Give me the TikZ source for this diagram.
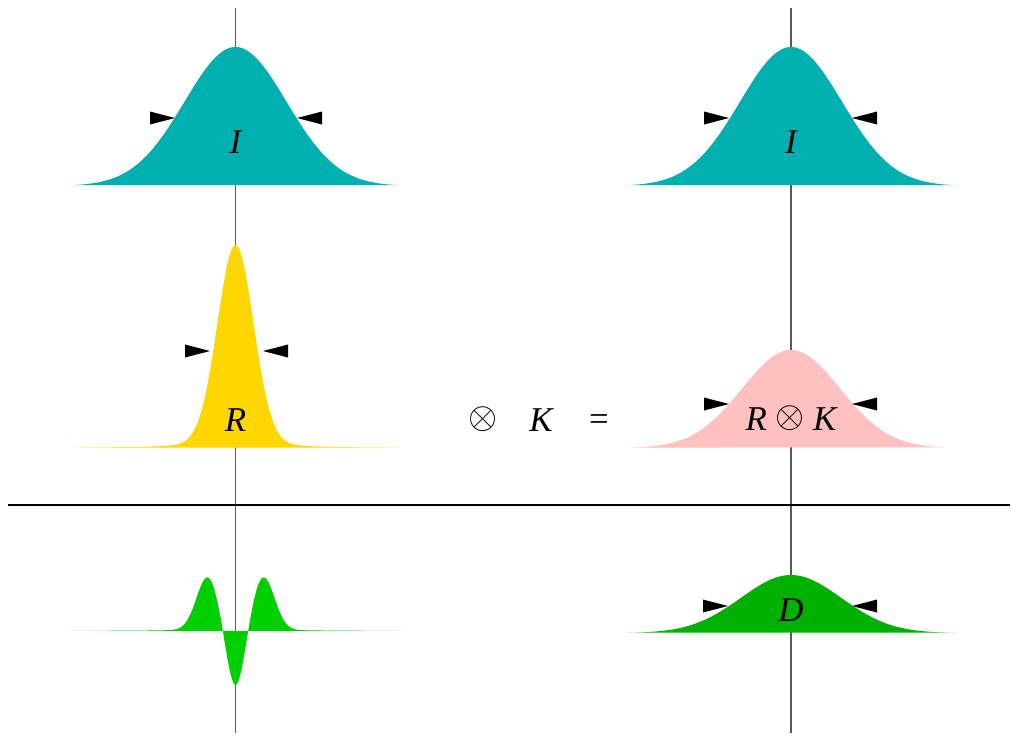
\documentclass[tikz,border=0pt]{standalone}
\usepackage{fontspec}
\setmainfont{Liberation Serif}
\usetikzlibrary{positioning}
\definecolor{FigCyan}{RGB}{0,176,176}
\definecolor{FigGold}{RGB}{255,215,0}
\definecolor{FigPink}{RGB}{255,192,192}
\definecolor{FigGreen}{RGB}{0,208,0}
\definecolor{FigDkGreen}{RGB}{0,176,0}
\newcommand{\convop}{\raisebox{1.2pt}{\scalebox{1.08}{$\otimes$}}}
\tikzset{
  axis/.style={draw=black!65,line width=0.7pt},
  rule/.style={draw=black,line width=0.8pt},
  lbl/.style={font=\fontsize{17.4}{20}\selectfont\itshape,inner sep=0pt,anchor=base},
  sym/.style={font=\fontsize{17.4}{20}\selectfont,inner sep=0pt},
  tipin/.pic={\fill[black] (0,0) -- (-25,-6.5) -- (-25,6.5) -- cycle;},
}

\begin{document}
\begin{tikzpicture}[x=0.5pt,y=-0.5pt]
  \useasboundingbox (0,0) rectangle (1011,736);
  % axes
  \draw[axis] (235.5,8) -- (235.5,733);
  \draw[axis] (791,8) -- (791,733);
  \draw[rule] (8,505) -- (1010,505);
  % profiles
  \foreach \cx in {235.5,791}
    \fill[FigCyan] plot[domain=-164:164,samples=165]
      ({\cx+\x},{186-139*exp(-(\x/72.1)*(\x/72.1))}) -- cycle;
  \fill[FigGold] plot[domain=-164:165,samples=330]
    ({235.5+\x},{448-195*exp(-(\x/25.5)*(\x/25.5))-8/(1+(\x/40)*(\x/40))}) -- cycle;
  \fill[FigPink] plot[domain=-161:154,samples=160]
    ({791+\x},{448-98*exp(-(\x/69.3)*(\x/69.3))}) -- cycle;
  \fill[FigDkGreen] plot[domain=-164:164,samples=165]
    ({791+\x},{633-58*exp(-(\x/70.9)*(\x/70.9))}) -- cycle;
  \fill[FigGreen] plot[domain=-164:166,samples=331]
    ({235.5+\x},{631-52*(exp(-min(40,((\x-28)/15.6)*((\x-28)/15.6)))
      +exp(-min(40,((\x+28)/15.6)*((\x+28)/15.6))))
      +61*exp(-min(40,(\x/12.7)*(\x/12.7)))-3/(1+(\x/40)*(\x/40))}) -- cycle;
  % width markers
  \foreach \l/\y/\r in {175/118/297,729/118/852,210/351/263,729/404/852,728/606/852}{
    \pic at (\l,\y) {tipin};
    \pic[xscale=-1] at (\r,\y) {tipin};
  }
  % labels
  \node[lbl] (labIa) at (235.5,153) {I};
  \node[lbl] (labIb) at (791,153) {I};
  \node[lbl] (labR) at (235.5,431) {R};
  \node[sym] (conv) at (483,419) {\scalebox{1.08}{$\otimes$}};
  \node[lbl] (labK) at (541,431) {K};
  \node[sym] (eq) at (599,423) {=};
  \node[lbl] (labRK) at (791,430) {R \convop{} K};
  \node[lbl] (labD) at (791,621) {D};
\end{tikzpicture}
\end{document}
